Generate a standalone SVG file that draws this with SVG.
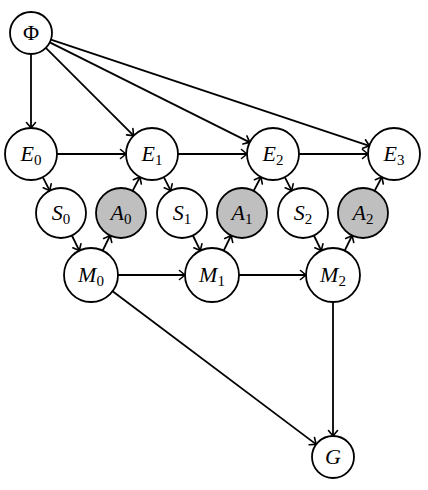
<svg xmlns="http://www.w3.org/2000/svg" width="428" height="490" viewBox="0 0 428 490">
<style>
.n{fill:#fff;stroke:#000;stroke-width:1.8}
.g{fill:#bfbfbf;stroke:#000;stroke-width:1.8}
.t{font-family:"Liberation Serif","Times New Roman",serif;font-size:22px;font-style:italic;text-anchor:middle}
.u{font-style:normal}
.s{font-style:normal;font-size:15px}
.e{stroke:#000;stroke-width:1.8;fill:none;marker-end:url(#a)}
</style>
<defs>
<marker id="a" markerUnits="userSpaceOnUse" markerWidth="12" markerHeight="12" viewBox="-8 -6 10 12" refX="0" refY="0" orient="auto">
<path d="M-5.5,-4.5 Q-1.5,-1.2 0,0 Q-1.5,1.2 -5.5,4.5" fill="none" stroke="#000" stroke-width="1.6" stroke-linecap="round"/>
</marker>
</defs>
<rect width="428" height="490" fill="#fff"/>
<g id="connectors">
<line class="e" x1="31" y1="54" x2="31" y2="128"/>
<line class="e" x1="45.8" y1="47.8" x2="133.6" y2="135.6"/>
<line class="e" x1="49.8" y1="42.4" x2="249.8" y2="142.4"/>
<line class="e" x1="50.9" y1="39.6" x2="369.3" y2="145.8"/>
<line class="e" x1="57" y1="154" x2="126" y2="154"/>
<line class="e" x1="178" y1="154" x2="247" y2="154"/>
<line class="e" x1="299" y1="154" x2="368" y2="154"/>
<line class="e" x1="42.8" y1="177.2" x2="49.7" y2="190.7"/>
<line class="e" x1="71.9" y1="235.5" x2="79.3" y2="250.7"/>
<line class="e" x1="102.7" y1="250.7" x2="110.1" y2="235.5"/>
<line class="e" x1="132.6" y1="190.9" x2="139.9" y2="177"/>
<line class="e" x1="163.8" y1="177.2" x2="170.7" y2="190.7"/>
<line class="e" x1="192.9" y1="235.5" x2="200.3" y2="250.7"/>
<line class="e" x1="223.7" y1="250.7" x2="231.1" y2="235.5"/>
<line class="e" x1="253.6" y1="190.9" x2="260.9" y2="177"/>
<line class="e" x1="284.8" y1="177.2" x2="291.7" y2="190.7"/>
<line class="e" x1="313.9" y1="235.5" x2="321.3" y2="250.7"/>
<line class="e" x1="344.7" y1="250.7" x2="352.1" y2="235.5"/>
<line class="e" x1="374.6" y1="190.9" x2="381.9" y2="177"/>
<line class="e" x1="118" y1="275" x2="185" y2="275"/>
<line class="e" x1="239" y1="275" x2="306" y2="275"/>
<line class="e" x1="112.6" y1="291.2" x2="316.2" y2="444.4"/>
<line class="e" x1="333" y1="302" x2="333" y2="436"/>
</g>
<g id="Phi"><circle class="n" cx="31" cy="33" r="21"/><text class="t" x="31" y="40"><tspan class="u">Φ</tspan></text></g>
<g id="E0"><circle class="n" cx="31" cy="154" r="26"/><text class="t" x="31" y="161">E<tspan class="s" dy="4">0</tspan></text></g>
<g id="E1"><circle class="n" cx="152" cy="154" r="26"/><text class="t" x="152" y="161">E<tspan class="s" dy="4">1</tspan></text></g>
<g id="E2"><circle class="n" cx="273" cy="154" r="26"/><text class="t" x="273" y="161">E<tspan class="s" dy="4">2</tspan></text></g>
<g id="E3"><circle class="n" cx="394" cy="154" r="26"/><text class="t" x="394" y="161">E<tspan class="s" dy="4">3</tspan></text></g>
<g id="S0"><circle class="n" cx="61" cy="213" r="25"/><text class="t" x="61" y="220">S<tspan class="s" dy="4">0</tspan></text></g>
<g id="A0"><circle class="g" cx="121" cy="213" r="25"/><text class="t" x="121" y="220">A<tspan class="s" dy="4">0</tspan></text></g>
<g id="S1"><circle class="n" cx="182" cy="213" r="25"/><text class="t" x="182" y="220">S<tspan class="s" dy="4">1</tspan></text></g>
<g id="A1"><circle class="g" cx="242" cy="213" r="25"/><text class="t" x="242" y="220">A<tspan class="s" dy="4">1</tspan></text></g>
<g id="S2"><circle class="n" cx="303" cy="213" r="25"/><text class="t" x="303" y="220">S<tspan class="s" dy="4">2</tspan></text></g>
<g id="A2"><circle class="g" cx="363" cy="213" r="25"/><text class="t" x="363" y="220">A<tspan class="s" dy="4">2</tspan></text></g>
<g id="M0"><circle class="n" cx="91" cy="275" r="27"/><text class="t" x="91" y="282">M<tspan class="s" dy="4">0</tspan></text></g>
<g id="M1"><circle class="n" cx="212" cy="275" r="27"/><text class="t" x="212" y="282">M<tspan class="s" dy="4">1</tspan></text></g>
<g id="M2"><circle class="n" cx="333" cy="275" r="27"/><text class="t" x="333" y="282">M<tspan class="s" dy="4">2</tspan></text></g>
<g id="G"><circle class="n" cx="333" cy="457" r="21"/><text class="t" x="333" y="464">G</text></g>
</svg>
